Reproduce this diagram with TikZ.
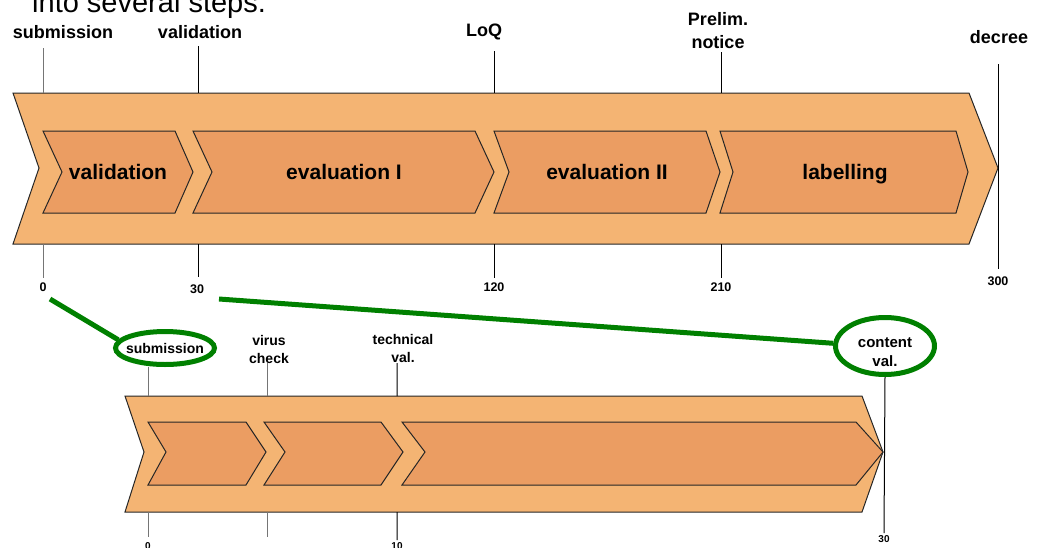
\documentclass[tikz,border=0pt]{standalone}
\usepackage{fontspec}
\setmainfont{Liberation Sans}
\usepackage{tikz}
\definecolor{orange300}{RGB}{244,180,115}
\definecolor{orange500}{RGB}{235,157,98}
\definecolor{green700}{RGB}{0,128,0}
\definecolor{gray500}{HTML}{757575}
\usetikzlibrary{shapes.geometric}
\tikzstyle{phase}=[draw=black!85, fill=orange300, line width=1pt]
\tikzstyle{stepbox}=[draw=black!85, fill=orange500, line width=1pt]
\tikzstyle{milestone}=[font=\bfseries\fontsize{18}{23}\selectfont, align=center, inner sep=0pt]
\tikzstyle{daymark}=[font=\bfseries\fontsize{12.5}{14}\selectfont, inner sep=0pt]
\tikzstyle{steptext}=[font=\bfseries\fontsize{21}{24}\selectfont, inner sep=0pt, anchor=base]
\tikzstyle{sublabel}=[font=\bfseries\fontsize{14}{18}\selectfont, align=center, inner sep=0pt]
\tikzstyle{subday}=[font=\bfseries\fontsize{10}{12}\selectfont, inner sep=0pt]
\tikzstyle{tick}=[line width=1pt]
\tikzstyle{zoomring}=[ellipse, draw=green700, line width=5pt, inner sep=0pt]
\tikzstyle{zoomline}=[draw=green700, line width=5pt]

\begin{document}
\begin{tikzpicture}[x=1pt, y=-1pt]
			\useasboundingbox (0,0) rectangle (1042,547);
			% heading, cut off at the top
			\node[anchor=base west, inner sep=0pt, font=\fontsize{29}{32}\selectfont] (heading) at (32,12) {into several steps.};

			% whole procedure
			\path[phase] (13,93) -- (969,93) -- (998,168) -- (969,244) -- (13,244) -- (39,168) -- cycle;
			\path[stepbox] (43,131) -- (175,131) -- (193,172) -- (175,213) -- (43,213) -- (62,172) -- cycle;
			\path[stepbox] (193,131) -- (475,131) -- (494,172) -- (475,213) -- (193,213) -- (212,172) -- cycle;
			\path[stepbox] (494,131) -- (706,131) -- (720,172) -- (706,213) -- (494,213) -- (509,172) -- cycle;
			\path[stepbox] (720,131) -- (956,131) -- (968,172) -- (956,213) -- (720,213) -- (733,172) -- cycle;
			\node[steptext] (svalid) at (118,179.5) {validation};
			\node[steptext] (seval1) at (344,179.5) {evaluation I};
			\node[steptext] (seval2) at (607,179.5) {evaluation II};
			\node[steptext] (slabel) at (845,179.5) {labelling};

			\node[milestone] (msub) at (63,32) {submission};
			\node[milestone] (mval) at (200,32) {validation};
			\node[milestone] (mloq) at (484,32) {LoQ};
			\node[milestone] (mpre) at (718,31) {Prelim.\\notice};
			\node[milestone] (mdec) at (999,37) {decree};

			\node[daymark] (d0) at (43,287.5) {0};
			\node[daymark] (d30) at (197,289.5) {30};
			\node[daymark] (d120) at (494,287.5) {120};
			\node[daymark] (d210) at (721,287.5) {210};
			\node[daymark] (d300) at (998,281) {300};

			\coordinate (tsub) at (43,48);   \coordinate (bsub) at (43,278);
			\coordinate (tval) at (198,46);  \coordinate (bval) at (198,277);
			\coordinate (tloq) at (494,51);  \coordinate (bloq) at (494,278);
			\coordinate (tpre) at (721,52);  \coordinate (bpre) at (721,278);
			\coordinate (tdec) at (998,64);  \coordinate (bdec) at (998,269);
			\path[tick, draw=gray500] (tsub) -- (43,93) (43,244) -- (bsub);
			\path[tick, draw=black]
				(tval) -- (198,93) (198,244) -- (bval)
				(tloq) -- (494,93) (494,244) -- (bloq)
				(tpre) -- (721,93) (721,244) -- (bpre)
				(tdec) -- (bdec);

			% validation in detail
			\path[phase] (125,396) -- (862,396) -- (883,452) -- (862,512) -- (125,512) -- (144,452) -- cycle;
			\path[stepbox] (148,422) -- (246,422) -- (266,452) -- (246,485) -- (148,485) -- (166,452) -- cycle;
			\path[stepbox] (264,422) -- (381,422) -- (403,452) -- (381,485) -- (264,485) -- (285,452) -- cycle;
			\path[stepbox] (402,422) -- (856,422) -- (883,452) -- (856,485) -- (402,485) -- (425,452) -- cycle;

			\node[zoomring, minimum width=99, minimum height=33] (subring) at (165,348) {};
			\node[sublabel] (lsub) at (165,348) {submission};
			\node[sublabel] (lvir) at (269,349) {virus\\check};
			\node[sublabel] (ltec) at (403,348) {technical\\val.};
			\node[zoomring, minimum width=99, minimum height=57] (conring) at (885,346) {};
			\node[sublabel, font=\bfseries\fontsize{15}{19}\selectfont] (lcon) at (885,352) {content\\val.};

			\node[subday] (e0) at (148,546.5) {0};
			\node[subday] (e10) at (397,546.5) {10};
			\node[subday] (e30) at (884,539) {30};

			\coordinate (usub) at (148,367);  \coordinate (vsub) at (148,537);
			\coordinate (uvir) at (267,363);  \coordinate (vvir) at (267,537);
			\coordinate (utec) at (397,363);  \coordinate (vtec) at (397,540);
			\coordinate (vcon) at (884,533);
			\path[tick, draw=gray500]
				(usub) -- (148,396) (148,512) -- (vsub)
				(uvir) -- (267,396) (267,512) -- (vvir);
			\path[tick, draw=black]
				(utec) -- (397,396) (397,512) -- (vtec)
				(conring.south) -- (vcon);

			% zoom lines
			\coordinate (z0) at (50,299);
			\coordinate (z30) at (219,299);
			\draw[zoomline] (z0) -- (subring.170);
			\draw[zoomline] (z30) -- (conring.177);
		\end{tikzpicture}
\end{document}
